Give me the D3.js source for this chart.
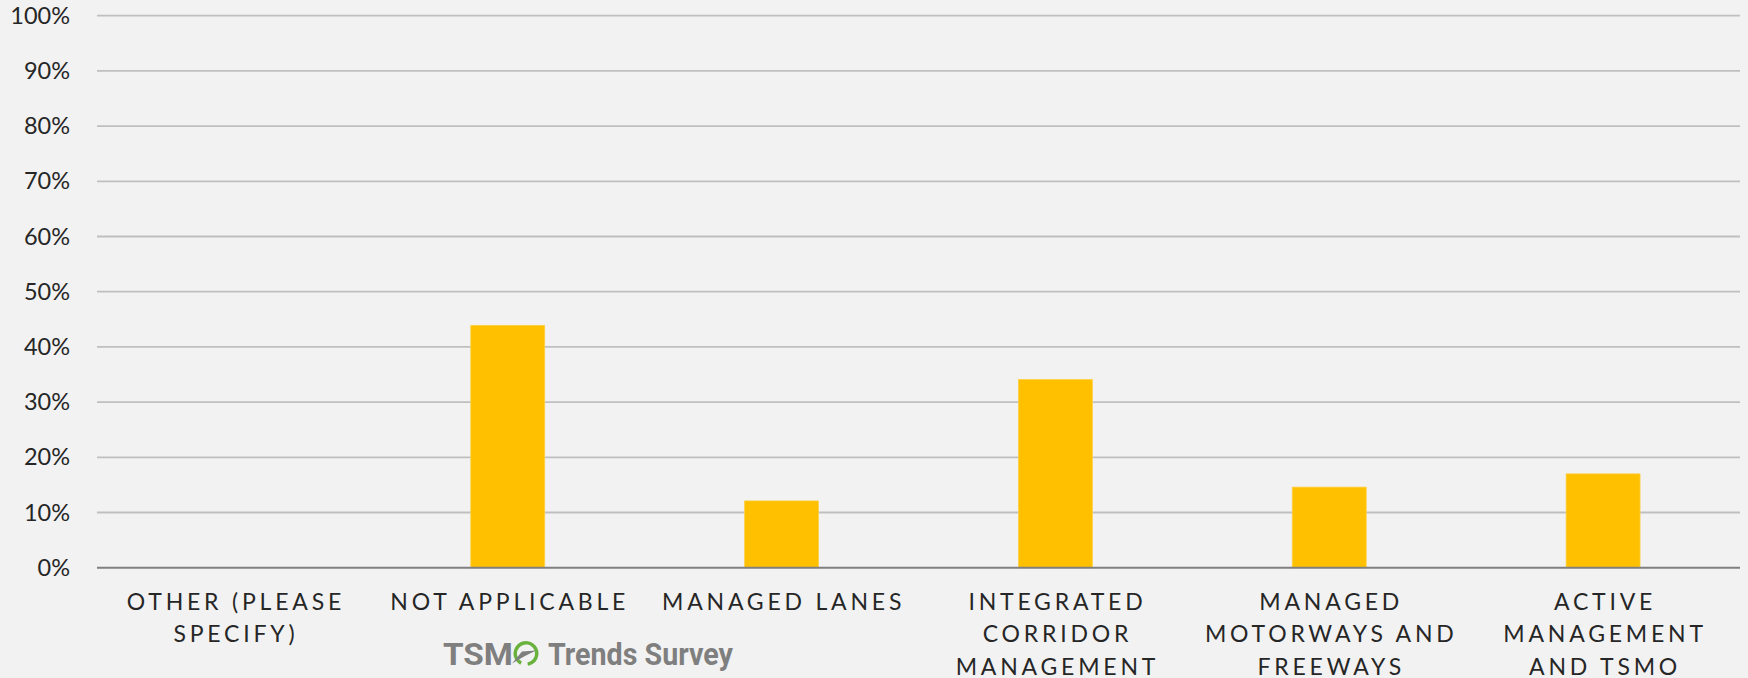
<!DOCTYPE html>
<html>
<head>
<meta charset="utf-8">
<script src="https://cdn.jsdelivr.net/npm/d3@7"></script>
<style>
  html, body { margin: 0; padding: 0; background: #f2f2f2; }
  svg { display: block; }
</style>
</head>
<body>
<svg id="chart" width="1748" height="678"></svg>
<script>
// Survey responses: share of agencies per activity
const categories = [
  "OTHER (PLEASE SPECIFY)",
  "NOT APPLICABLE",
  "MANAGED LANES",
  "INTEGRATED CORRIDOR MANAGEMENT",
  "MANAGED MOTORWAYS AND FREEWAYS",
  "ACTIVE MANAGEMENT AND TSMO"
];
const values = [0, 43.9, 12.1, 34.1, 14.6, 17.0];
const categoryLines = [
  ["OTHER (PLEASE", "SPECIFY)"],
  ["NOT APPLICABLE"],
  ["MANAGED LANES"],
  ["INTEGRATED", "CORRIDOR", "MANAGEMENT"],
  ["MANAGED", "MOTORWAYS AND", "FREEWAYS"],
  ["ACTIVE", "MANAGEMENT", "AND TSMO"]
];
const yTicks = [0, 10, 20, 30, 40, 50, 60, 70, 80, 90, 100];

const svg = d3.select("#chart");
const W = 1748, H = 678;
const margin = { left: 97, right: 8, top: 15.7, bottom: 110.3 };
const plotBottom = H - margin.bottom;

svg.append("rect").attr("width", W).attr("height", H).attr("fill", "#f2f2f2");

const x = d3.scaleBand()
  .domain(categories)
  .range([margin.left, W - margin.right])
  .paddingInner(0.73)
  .paddingOuter(0.365);

const y = d3.scaleLinear().domain([0, 100]).range([plotBottom, margin.top]);

// Horizontal gridlines
svg.append("g")
  .selectAll("line")
  .data(yTicks.filter(d => d > 0))
  .join("line")
  .attr("x1", margin.left)
  .attr("x2", W - margin.right)
  .attr("y1", d => y(d))
  .attr("y2", d => y(d))
  .attr("stroke", "#bfbfbf")
  .attr("stroke-width", 1.8);

// Y axis labels
const yAxis = d3.axisLeft(y)
  .tickValues(yTicks)
  .tickFormat(d => d + "%")
  .tickSize(0)
  .tickPadding(27);
const yg = svg.append("g").attr("transform", `translate(${margin.left},0)`).call(yAxis);
yg.select(".domain").remove();
yg.selectAll("text")
  .attr("font-family", "Lato, 'Open Sans', sans-serif")
  .attr("font-size", 23.5)
  .attr("fill", "#262626");

// Bars
svg.append("g")
  .selectAll("rect")
  .data(values)
  .join("rect")
  .attr("x", (d, i) => x(categories[i]))
  .attr("width", x.bandwidth())
  .attr("y", d => y(d))
  .attr("height", d => y(0) - y(d))
  .attr("fill", "#ffc000")
  .attr("stroke", "#ffd046")
  .attr("stroke-width", 0.8);

// Baseline
svg.append("line")
  .attr("x1", margin.left)
  .attr("x2", W - margin.right)
  .attr("y1", y(0))
  .attr("y2", y(0))
  .attr("stroke", "#7f7f7f")
  .attr("stroke-width", 2);

// Category labels, wrapped, letter-spaced
const lab = svg.append("g")
  .attr("font-family", "Lato, 'Open Sans', sans-serif")
  .attr("font-size", 23)
  .attr("fill", "#262626")
  .attr("text-anchor", "middle")
  .attr("letter-spacing", "3.8px");
categoryLines.forEach((lines, i) => {
  const cx = x(categories[i]) + x.bandwidth() / 2;
  const t = lab.append("text").attr("transform", `translate(${cx + 2},0)`);
  lines.forEach((ln, k) => {
    t.append("tspan").attr("x", 0).attr("y", 610 + k * 32.4).text(ln);
  });
});

// Survey logo
const logo = svg.append("g").attr("transform", "translate(443,664.5)");
logo.append("text")
  .attr("font-family", "Roboto, 'Liberation Sans', sans-serif")
  .attr("font-weight", 700)
  .attr("font-size", 31.5)
  .attr("fill", "#7f7f7f")
  .attr("textLength", 70)
  .attr("lengthAdjust", "spacingAndGlyphs")
  .text("TSM");
const icon = logo.append("g").attr("transform", "translate(83,-11)");
icon.append("path")
  .attr("d", d3.arc()({ innerRadius: 9, outerRadius: 12.5, startAngle: -Math.PI * 0.85, endAngle: Math.PI * 0.95 }))
  .attr("fill", "#6ab23e");
icon.append("path")
  .attr("d", "M-14,10 L-4,-2 L10,-3 L-2,3 Z")
  .attr("fill", "#7f7f7f");
logo.append("text")
  .attr("x", 105)
  .attr("font-family", "Roboto, 'Liberation Sans', sans-serif")
  .attr("font-weight", 700)
  .attr("font-size", 31.5)
  .attr("fill", "#7f7f7f")
  .attr("textLength", 185)
  .attr("lengthAdjust", "spacingAndGlyphs")
  .text("Trends Survey");
</script>
</body>
</html>
